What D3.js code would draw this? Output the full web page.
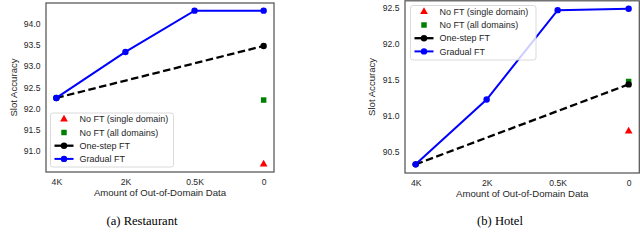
<!DOCTYPE html>
<html>
<head>
<meta charset="utf-8">
<script src="https://cdn.jsdelivr.net/npm/d3@7"></script>
<style>
  html, body { margin: 0; padding: 0; background: #fff; }
  svg { display: block; }
</style>
</head>
<body>
<svg id="chart" width="640" height="244"></svg>
<script>
// ---- Data ----
const categories = ["4K", "2K", "0.5K", "0"];
const oneStepCats = ["4K", "0"];

const restGradual = [92.25, 93.33, 94.30, 94.30];
const restOneStep = [92.25, 93.47];
const restNoFTAll = 92.20;
const restNoFTSingle = 90.69;
const restYTicks = [91.0, 91.5, 92.0, 92.5, 93.0, 93.5, 94.0];
const restYDomain = [90.51, 94.48];

const hotelGradual = [90.33, 91.23, 92.47, 92.49];
const hotelOneStep = [90.33, 91.44];
const hotelNoFTAll = 91.48;
const hotelNoFTSingle = 90.79;
const hotelYTicks = [90.5, 91.0, 91.5, 92.0, 92.5];
const hotelYDomain = [90.21, 92.60];

const legendLabels = ["No FT (single domain)", "No FT (all domains)", "One-step FT", "Gradual FT"];
const captions = ["(a) Restaurant", "(b) Hotel"];
const xTitle = "Amount of Out-of-Domain Data";
const yTitle = "Slot Accuracy";

const svg = d3.select("#chart");
const SANS = "'Liberation Sans', Arial, sans-serif";
const SERIF = "'Liberation Serif', 'Times New Roman', serif";

function panel(cfg) {
  const {x0, x1, y0, y1, yDomain, yTicks, gradual, oneStep, noAll, noSingle, legend, caption, captionX, yLabelX} = cfg;
  const g = svg.append("g");
  const x = d3.scalePoint().domain(categories).range([x0, x1]).padding(0.15);
  const y = d3.scaleLinear().domain(yDomain).range([y1, y0]);

  // y axis labels
  const yAxis = d3.axisLeft(y).tickValues(yTicks).tickFormat(d3.format(".1f")).tickSize(0).tickPadding(5.5);
  const ya = g.append("g").attr("transform", `translate(${x0},0)`).call(yAxis);
  ya.select(".domain").remove();
  ya.selectAll("text").attr("font-family", SANS).attr("font-size", 8.6).attr("fill", "#262626");

  // x axis labels
  const xAxis = d3.axisBottom(x).tickSize(0).tickPadding(6.5);
  const xa = g.append("g").attr("transform", `translate(0,${y1})`).call(xAxis);
  xa.select(".domain").remove();
  xa.selectAll("text").attr("font-family", SANS).attr("font-size", 8.6).attr("fill", "#262626");

  // axis titles
  g.append("text").attr("x", (x0 + x1) / 2).attr("y", y1 + 23.5)
    .attr("text-anchor", "middle").attr("font-family", SANS).attr("font-size", 9.6)
    .attr("fill", "#262626").text(xTitle);
  g.append("text").attr("transform", `translate(${yLabelX},${(y0 + y1) / 2}) rotate(-90)`)
    .attr("text-anchor", "middle").attr("font-family", SANS).attr("font-size", 9.6)
    .attr("fill", "#262626").text(yTitle);

  // caption
  g.append("text").attr("x", captionX).attr("y", 224.5)
    .attr("text-anchor", "middle").attr("font-family", SERIF).attr("font-size", 12.6)
    .attr("fill", "#000").text(caption);

  const tri = d3.symbol().type(d3.symbolTriangle).size(26);
  const sq = d3.symbol().type(d3.symbolSquare).size(30);

  // No FT single (red triangle)
  g.append("path").attr("d", tri()).attr("fill", "#ff0000")
    .attr("transform", `translate(${x("0")},${y(noSingle)})`);
  // No FT all (green square)
  g.append("path").attr("d", sq()).attr("fill", "#008000")
    .attr("transform", `translate(${x("0")},${y(noAll)})`);

  // One-step FT (black dashed)
  const osData = oneStepCats.map((c, i) => ({c, v: oneStep[i]}));
  g.append("path").datum(osData)
    .attr("d", d3.line().x(d => x(d.c)).y(d => y(d.v)))
    .attr("fill", "none").attr("stroke", "#000").attr("stroke-width", 2.3)
    .attr("stroke-dasharray", "7.5,3.5");
  g.selectAll(null).data(osData).enter().append("circle")
    .attr("cx", d => x(d.c)).attr("cy", d => y(d.v)).attr("r", 3.2).attr("fill", "#000");

  // Gradual FT (blue)
  const grData = categories.map((c, i) => ({c, v: gradual[i]}));
  g.append("path").datum(grData)
    .attr("d", d3.line().x(d => x(d.c)).y(d => y(d.v)))
    .attr("fill", "none").attr("stroke", "#0000ff").attr("stroke-width", 2);
  g.selectAll(null).data(grData).enter().append("circle")
    .attr("cx", d => x(d.c)).attr("cy", d => y(d.v)).attr("r", 3.2).attr("fill", "#0000ff");

  // Legend
  const lg = g.append("g").attr("transform", `translate(${legend.x},${legend.y})`);
  lg.append("rect").attr("x", 0).attr("y", 0).attr("width", legend.w).attr("height", legend.h)
    .attr("rx", 2.5).attr("fill", "#fff").attr("fill-opacity", 0.8)
    .attr("stroke", "#d0d0d0").attr("stroke-width", 0.8);
  const rowY = i => 6.3 + i * 13.2;
  lg.append("path").attr("d", tri()).attr("fill", "#ff0000").attr("transform", `translate(13.5,${rowY(0)})`);
  lg.append("path").attr("d", sq()).attr("fill", "#008000").attr("transform", `translate(13.5,${rowY(1)})`);
  lg.append("line").attr("x1", 4).attr("x2", 23).attr("y1", rowY(2)).attr("y2", rowY(2))
    .attr("stroke", "#000").attr("stroke-width", 2.3);
  lg.append("circle").attr("cx", 13.5).attr("cy", rowY(2)).attr("r", 3.2).attr("fill", "#000");
  lg.append("line").attr("x1", 4).attr("x2", 23).attr("y1", rowY(3)).attr("y2", rowY(3))
    .attr("stroke", "#0000ff").attr("stroke-width", 2);
  lg.append("circle").attr("cx", 13.5).attr("cy", rowY(3)).attr("r", 3.2).attr("fill", "#0000ff");
  lg.selectAll(null).data(legendLabels).enter().append("text")
    .attr("x", 29).attr("y", (d, i) => rowY(i)).attr("dy", "0.35em")
    .attr("font-family", SANS).attr("font-size", 9).attr("fill", "#262626").text(d => d);

  // frame
  g.append("rect").attr("x", x0).attr("y", y0).attr("width", x1 - x0).attr("height", y1 - y0)
    .attr("fill", "none").attr("stroke", "#555").attr("stroke-width", 1.25);
}

panel({
  x0: 46, x1: 274, y0: 3, y1: 172,
  yDomain: restYDomain, yTicks: restYTicks,
  gradual: restGradual, oneStep: restOneStep, noAll: restNoFTAll, noSingle: restNoFTSingle,
  legend: {x: 50.5, y: 113, w: 123, h: 54},
  caption: captions[0], captionX: 142, yLabelX: 16.5
});

panel({
  x0: 405, x1: 639.3, y0: 0.8, y1: 173,
  yDomain: hotelYDomain, yTicks: hotelYTicks,
  gradual: hotelGradual, oneStep: hotelOneStep, noAll: hotelNoFTAll, noSingle: hotelNoFTSingle,
  legend: {x: 410.5, y: 5.5, w: 125.5, h: 54.5},
  caption: captions[1], captionX: 500, yLabelX: 375
});
</script>
</body>
</html>
